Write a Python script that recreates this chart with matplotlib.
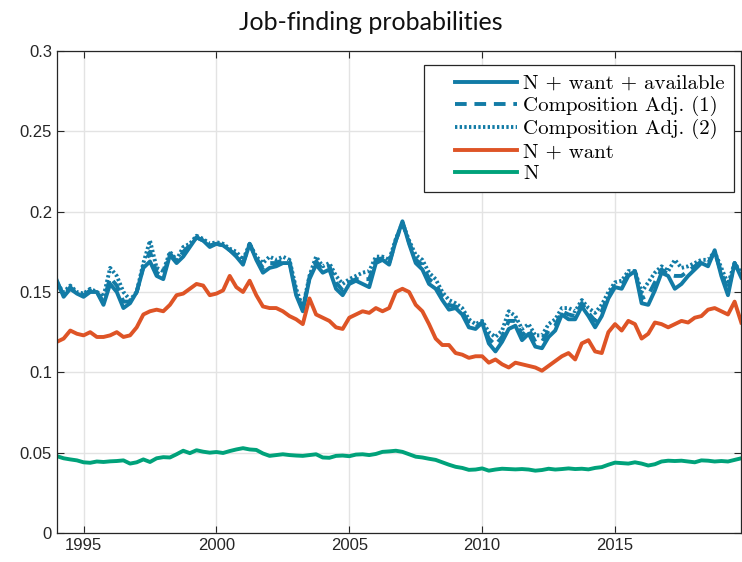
import numpy as np
import matplotlib
matplotlib.use("Agg")
import matplotlib.pyplot as plt
from matplotlib.ticker import FormatStrFormatter
from matplotlib.legend_handler import HandlerLine2D

# quarterly dates, 1994Q1 .. 2019Q4
dates = np.arange(1994.0, 2019.76, 0.25)

# N + want + available
nwa = [0.157, 0.147, 0.152, 0.149, 0.147, 0.150, 0.150, 0.142, 0.155, 0.150,
       0.140, 0.143, 0.150, 0.165, 0.169, 0.160, 0.158, 0.173, 0.168, 0.172,
       0.178, 0.184, 0.182, 0.178, 0.180, 0.179, 0.176, 0.172, 0.167, 0.180,
       0.170, 0.162, 0.165, 0.166, 0.168, 0.168, 0.148, 0.138, 0.158, 0.167,
       0.162, 0.164, 0.152, 0.148, 0.155, 0.157, 0.155, 0.153, 0.168, 0.170,
       0.167, 0.182, 0.194, 0.180, 0.168, 0.164, 0.155, 0.152, 0.145, 0.139,
       0.140, 0.136, 0.128, 0.127, 0.131, 0.118, 0.113, 0.119, 0.127, 0.129,
       0.120, 0.124, 0.116, 0.115, 0.122, 0.126, 0.136, 0.133, 0.133, 0.141,
       0.135, 0.128, 0.135, 0.146, 0.153, 0.152, 0.160, 0.163, 0.143, 0.142,
       0.151, 0.162, 0.160, 0.152, 0.155, 0.160, 0.164, 0.168, 0.166, 0.176,
       0.160, 0.148, 0.168, 0.159]

# Composition Adj. (1)
adj1 = [0.156, 0.148, 0.153, 0.149, 0.148, 0.151, 0.150, 0.144, 0.159, 0.154,
        0.144, 0.144, 0.150, 0.166, 0.175, 0.162, 0.160, 0.174, 0.169, 0.175,
        0.179, 0.184, 0.182, 0.179, 0.180, 0.179, 0.176, 0.173, 0.168, 0.180,
        0.171, 0.165, 0.168, 0.168, 0.170, 0.169, 0.150, 0.139, 0.159, 0.169,
        0.164, 0.166, 0.156, 0.151, 0.156, 0.158, 0.158, 0.158, 0.170, 0.171,
        0.168, 0.182, 0.193, 0.181, 0.170, 0.167, 0.158, 0.155, 0.147, 0.142,
        0.141, 0.138, 0.130, 0.128, 0.131, 0.121, 0.117, 0.122, 0.132, 0.132,
        0.123, 0.127, 0.119, 0.119, 0.126, 0.129, 0.138, 0.136, 0.135, 0.143,
        0.137, 0.132, 0.138, 0.148, 0.154, 0.154, 0.161, 0.163, 0.146, 0.148,
        0.156, 0.164, 0.161, 0.160, 0.160, 0.163, 0.166, 0.169, 0.168, 0.175,
        0.162, 0.151, 0.168, 0.160]

# Composition Adj. (2)
adj2 = [0.155, 0.150, 0.154, 0.150, 0.149, 0.152, 0.150, 0.147, 0.165, 0.160,
        0.150, 0.145, 0.150, 0.168, 0.182, 0.165, 0.163, 0.175, 0.170, 0.178,
        0.180, 0.185, 0.183, 0.180, 0.181, 0.180, 0.177, 0.175, 0.170, 0.180,
        0.172, 0.168, 0.172, 0.170, 0.172, 0.170, 0.152, 0.140, 0.160, 0.172,
        0.166, 0.168, 0.160, 0.155, 0.158, 0.160, 0.162, 0.163, 0.172, 0.172,
        0.170, 0.183, 0.193, 0.182, 0.173, 0.170, 0.162, 0.158, 0.150, 0.145,
        0.143, 0.140, 0.133, 0.130, 0.132, 0.125, 0.122, 0.126, 0.138, 0.135,
        0.127, 0.130, 0.123, 0.123, 0.130, 0.133, 0.140, 0.140, 0.138, 0.145,
        0.140, 0.137, 0.142, 0.150, 0.156, 0.157, 0.163, 0.163, 0.150, 0.156,
        0.162, 0.166, 0.163, 0.170, 0.165, 0.166, 0.168, 0.170, 0.170, 0.175,
        0.165, 0.155, 0.168, 0.162]

# N + want
nw = [0.119, 0.121, 0.126, 0.124, 0.123, 0.125, 0.122, 0.122, 0.123, 0.125,
      0.122, 0.123, 0.128, 0.136, 0.138, 0.139, 0.138, 0.142, 0.148, 0.149,
      0.152, 0.155, 0.154, 0.148, 0.149, 0.151, 0.160, 0.153, 0.150, 0.157,
      0.148, 0.141, 0.140, 0.140, 0.138, 0.135, 0.133, 0.130, 0.146, 0.136,
      0.134, 0.132, 0.128, 0.127, 0.134, 0.136, 0.138, 0.137, 0.140, 0.138,
      0.140, 0.150, 0.152, 0.150, 0.142, 0.138, 0.130, 0.121, 0.117, 0.117,
      0.112, 0.111, 0.109, 0.110, 0.110, 0.106, 0.108, 0.105, 0.103, 0.106,
      0.105, 0.104, 0.103, 0.101, 0.104, 0.107, 0.110, 0.112, 0.108, 0.118,
      0.120, 0.113, 0.112, 0.125, 0.130, 0.126, 0.132, 0.130, 0.121, 0.124,
      0.131, 0.130, 0.128, 0.130, 0.132, 0.131, 0.134, 0.135, 0.139, 0.140,
      0.138, 0.136, 0.144, 0.131]

# N
n = [0.0478, 0.0465, 0.0458, 0.0452, 0.0440, 0.0437, 0.0445, 0.0442, 0.0446, 0.0448,
     0.0452, 0.0432, 0.0440, 0.0458, 0.0442, 0.0465, 0.0472, 0.0470, 0.0490, 0.0512,
     0.0497, 0.0515, 0.0506, 0.0500, 0.0504, 0.0498, 0.0510, 0.0520, 0.0528, 0.0520,
     0.0517, 0.0495, 0.0480, 0.0485, 0.0490, 0.0485, 0.0482, 0.0480, 0.0485, 0.0490,
     0.0470, 0.0468, 0.0480, 0.0482, 0.0478, 0.0488, 0.0490, 0.0485, 0.0492, 0.0505,
     0.0508, 0.0512, 0.0505, 0.0490, 0.0475, 0.0470, 0.0462, 0.0455, 0.0440, 0.0425,
     0.0412, 0.0405, 0.0393, 0.0395, 0.0402, 0.0388, 0.0395, 0.0400, 0.0398, 0.0396,
     0.0398, 0.0395, 0.0388, 0.0392, 0.0400, 0.0395, 0.0398, 0.0402, 0.0398, 0.0400,
     0.0396, 0.0405, 0.0410, 0.0425, 0.0438, 0.0435, 0.0432, 0.0440, 0.0432, 0.0420,
     0.0428, 0.0445, 0.0450, 0.0448, 0.0450, 0.0445, 0.0440, 0.0452, 0.0450, 0.0445,
     0.0448, 0.0445, 0.0455, 0.0465]

x_ticks = [1995, 2000, 2005, 2010, 2015]
y_ticks = [0, 0.05, 0.1, 0.15, 0.2, 0.25, 0.3]

blue = '#127ba6'
orange = '#de5426'
green = '#00a27a'


class PaddedLine(HandlerLine2D):
    # matlab-like legend: empty space left of the line sample
    def get_xdata(self, legend, xdescent, ydescent, width, height, fontsize):
        pad = 0.25 * width
        return [-xdescent + pad, -xdescent + width], [-xdescent + 0.6 * width]


plt.rcParams['font.family'] = ['Liberation Sans', 'DejaVu Sans']

fig = plt.figure(figsize=(7.42, 5.62), dpi=100)
ax = fig.add_axes([0.0768, 0.0516, 0.9222, 0.8577])

lw = 2.8
ax.plot(dates, nwa, color=blue, lw=lw, label='N + want + available')
ax.plot(dates, adj1, color=blue, lw=lw, ls=(0, (3, 2)), label='Composition Adj. (1)')
ax.plot(dates, adj2, color=blue, lw=lw, ls=(0, (0.6, 0.6)), label='Composition Adj. (2)')
ax.plot(dates, nw, color=orange, lw=lw, label='N + want')
ax.plot(dates, n, color=green, lw=lw, label='N')

ax.set_xlim(1994.0, 2019.75)
ax.set_ylim(0, 0.3)
ax.set_xticks(x_ticks)
ax.set_yticks(y_ticks)
ax.yaxis.set_major_formatter(FormatStrFormatter('%g'))
ax.grid(True, color='#e3e3e3', lw=1)
ax.set_axisbelow(True)
ax.tick_params(direction='in', length=5, labelsize=12, colors='#262626',
               top=True, right=True)
for s in ax.spines.values():
    s.set_color('#262626')
    s.set_linewidth(0.9)

leg = ax.legend(loc='upper right', bbox_to_anchor=(0.9898, 0.971),
                prop={'family': 'cmr10', 'size': 15},
                fancybox=False, framealpha=1, edgecolor='#262626',
                handlelength=4.0, handletextpad=0.3, labelspacing=0.15,
                borderaxespad=0, borderpad=0.45,
                handler_map={plt.Line2D: PaddedLine()})
leg.get_frame().set_linewidth(0.9)

fig.text(0.5, 0.9466, 'Job-finding probabilities', ha='center', va='baseline',
         fontsize=18, family='Lato', color='#111111')

fig.savefig('out.png', dpi=100)
